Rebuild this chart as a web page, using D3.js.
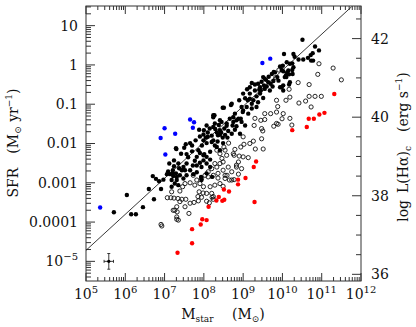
<!DOCTYPE html>
<html>
<head>
<meta charset="utf-8">
<script src="https://cdn.jsdelivr.net/npm/d3@7"></script>
<style>
  html, body { margin: 0; padding: 0; background: #fff; }
  svg { display: block; font-family: "DejaVu Serif", "Liberation Serif", serif; }
</style>
</head>
<body>
<svg id="chart" width="416" height="327"></svg>
<script>
// All galaxy values are stored as [log10 Mstar (Msun), log10 SFR (Msun/yr)]

// Filled black points
const filledGalaxies = [
  [5.71,-3.75],[6.04,-3.31],[6.15,-3.80],[6.27,-3.80],[6.45,-3.62],[6.60,-3.16],[6.73,-3.42],[6.86,-2.96],[6.91,-3.16],[7.06,-2.78],
  [7.24,-2.58],[7.29,-2.12],[7.54,-2.02],[7.70,-2.05],[7.09,-2.71],[7.21,-2.76],
  [8.48,-1.09],[8.24,-1.28],[7.88,-1.65],[7.99,-1.77],[8.38,-1.53],[8.29,-1.63],[8.44,-1.72],[8.58,-1.55],[7.79,-1.92],[8.10,-1.72],
  [8.10,-1.83],[8.20,-1.80],[8.33,-1.72],[8.41,-1.78],[8.54,-1.78],[8.60,-1.85],
  [7.65,-1.99],[7.50,-2.11],[7.30,-2.14],[7.42,-2.26],[7.56,-2.27],[7.86,-2.17],[7.90,-2.24],[8.01,-2.27],[8.07,-2.34],[8.16,-2.41],
  [7.99,-2.43],[7.77,-2.44],[7.72,-2.56],[7.82,-2.56],[7.90,-2.49],[7.56,-2.51],[7.48,-2.60],[7.37,-2.63],[7.24,-2.43],[7.12,-2.51],
  [7.21,-2.68],[7.29,-2.76],[7.14,-2.78],[6.97,-2.92],[7.65,-2.68],[7.73,-2.78],[7.82,-2.73],
  [7.31,-2.85],[7.44,-2.68],[7.39,-2.81],[7.48,-2.89],[7.56,-2.81],[7.31,-2.93],[7.18,-2.93],[7.99,-1.92],[8.24,-1.92],[7.82,-2.34],
  [8.07,-2.51],[8.16,-2.60],[7.93,-2.85],[8.07,-2.76],[8.21,-2.85],
  [7.35,-2.51],[7.52,-2.68],[7.22,-2.83],[7.26,-3.02],[7.18,-3.10],[7.35,-3.06],
  [10.04,0.28],[10.11,0.07],[9.94,-0.04],[9.81,-0.19],[10.02,-0.16],[10.12,-0.19],[10.09,-0.26],[9.73,-0.23],[9.87,-0.31],[9.51,-0.31],
  [9.58,-0.38],[9.64,-0.44],[9.47,-0.43],[9.53,-0.52],[9.70,-0.48],[9.77,-0.41],[9.38,-0.48],[9.43,-0.57],[9.55,-0.61],[9.68,-0.65],
  [9.94,-0.57],[10.02,-0.52],[9.22,-0.46],[9.17,-0.57],[9.30,-0.65],[9.43,-0.73],[9.34,-0.80],[9.51,-0.84],[9.26,-0.90],[9.38,-0.95],
  [9.17,-0.86],[9.00,-0.73],[8.90,-0.90],[8.71,-0.99],[8.51,-1.09],[9.09,-1.07],[9.22,-1.11],[9.34,-1.07],[8.99,-1.20],[9.13,-1.24],
  [8.79,-1.24],[8.88,-1.37],[8.66,-1.37],[8.75,-1.45],[8.58,-1.49],[8.96,-1.45],[9.05,-1.54],[8.83,-1.56],[8.41,-1.41],[8.28,-1.49],
  [8.24,-1.33],
  [10.51,0.64],[10.28,0.28],[10.31,0.21],[10.83,0.47],[10.93,0.37],[10.77,0.30],[10.72,0.25],[10.65,0.18],[10.78,0.11],[10.41,0.14],
  [10.53,0.14],[10.25,0.04],[10.19,0.03],[10.28,-0.06],[10.15,-0.14],[10.26,-0.23],[10.06,-0.31],[10.19,-0.44],[10.17,-0.50],[9.98,-0.57],
  [10.02,-0.65],
  [8.69,-1.02],[8.27,-1.28],[8.00,-1.66],[8.24,-1.58],[8.41,-1.66],[8.36,-1.79],[8.71,-1.75],[8.79,-1.65],[8.92,-1.75],[8.07,-1.99],
  [8.20,-1.96],[8.33,-2.09],[7.99,-2.30],[8.16,-2.21],[8.49,-1.99],[8.41,-2.17],[7.94,-2.60],[7.94,-2.93],
  [6.70,-2.83],[6.78,-2.90],
  [10.01,-0.02],[9.98,-0.13],[9.78,-0.18],[9.55,-0.35],[9.41,-0.63],[9.17,-0.73],[9.12,-0.90],[9.22,-0.99],[8.96,-1.07],[9.00,-1.16],
  [8.75,-1.33],[8.83,-1.41],[8.94,-1.37],[8.73,-1.54],[10.73,0.11],[10.25,-0.13],[10.17,-0.24],[10.10,-0.31],[7.90,-1.82],[8.07,-1.54],
  [8.45,-1.45],[8.52,-1.62],[8.35,-1.95],[8.62,-1.68],[8.15,-1.62],[8.05,-1.85],[8.48,-1.85],[8.28,-2.05],
  [9.60,-0.55],[9.75,-0.55],[9.45,-0.65],[9.65,-0.30],[9.90,-0.40],[9.30,-0.50],[9.05,-0.85],[9.10,-0.62],
  [7.60,-2.35],[7.95,-2.05],[7.70,-2.20]
];

// Open circles
const openGalaxies = [
  [6.91,-4.06],[6.93,-4.10],[7.07,-3.38],[7.16,-3.38],[7.24,-3.39],[7.34,-3.40],[7.44,-3.42],[7.54,-3.42],[7.26,-3.70],[7.32,-3.74],
  [7.31,-3.93],[7.62,-3.78],[7.52,-3.61],[7.75,-3.50],[7.86,-3.46],[7.94,-3.37],[7.88,-3.23],[7.98,-3.26],[8.21,-3.37],[7.39,-3.21],
  [7.46,-3.10],[7.52,-3.02],[7.65,-3.00],[7.82,-2.93],[7.73,-2.81],
  [7.77,-3.06],[7.90,-3.02],[7.94,-2.89],[8.03,-2.81],[8.11,-2.72],[8.20,-2.64],[8.33,-2.60],[8.41,-2.51],[8.49,-2.47],[8.24,-2.81],
  [8.36,-2.76],[8.49,-2.68],[8.62,-2.60],[8.71,-2.72],[8.83,-2.60],[8.88,-2.47],[8.54,-2.89],[8.65,-2.93],[8.41,-3.02],[8.49,-3.09],
  [8.16,-3.10],[8.28,-3.06],[7.85,-3.35],[7.65,-3.52],[7.39,-3.48],[7.31,-3.61],[7.22,-3.70],[7.31,-3.87],[7.35,-3.95],[8.14,-3.51],
  [8.24,-3.42],[8.07,-3.27],[8.20,-3.27],[7.99,-3.10],[7.18,-3.23],
  [8.33,-2.17],[8.41,-2.26],[8.54,-2.17],[8.58,-2.30],[8.46,-2.38],[8.28,-2.51],[8.11,-2.85],[8.36,-2.88],[8.54,-2.81],[8.63,-1.99],
  [8.51,-2.09],
  [10.02,-1.24],[10.19,-1.36],[10.24,-1.53],[9.55,-1.24],[9.70,-1.24],[9.55,-1.39],[9.45,-1.41],[9.30,-1.36],[9.85,-1.49],[9.78,-1.56],
  [9.50,-1.68],[9.28,-1.54],[9.00,-1.83],[9.47,-1.88],[9.26,-1.94],[9.17,-2.00],[9.02,-2.02],[8.94,-2.09],[9.51,-2.14],[9.31,-2.14],
  [8.79,-2.15],[8.77,-2.30],[8.90,-2.32],[9.00,-2.34],[9.13,-2.36],[8.88,-2.78],[8.77,-2.92],
  [10.93,0.03],[11.29,-0.08],[10.90,-0.24],[11.50,-0.38],[10.40,-0.45],[10.17,-0.62],[10.68,-0.50],[10.68,-0.80],[10.83,-0.80],[10.99,-0.80],
  [10.09,-0.90],[10.19,-0.82],[10.42,-0.97],[10.59,-0.92],[10.73,-1.07],[9.85,-0.90],[9.88,-1.06],[9.99,-1.37],[9.89,-1.51],[9.47,-1.62],
  [9.91,-0.13],[9.83,-0.32],
  [9.85,-1.20],[8.75,-2.26],[8.83,-2.55],[8.96,-2.64],[8.59,-2.81],[8.71,-2.93],[8.24,-3.35],[8.07,-3.47]
];

// Red points
const redGalaxies = [
  [11.32,-0.74],[10.25,-1.66],[10.62,-1.58],[10.67,-1.37],[10.80,-1.37],[10.94,-1.26],[11.07,-1.22],[9.33,-2.46],[9.27,-2.60],[9.06,-2.88],
  [8.87,-2.92],[8.87,-3.04],[8.51,-3.17],[8.64,-3.22],[8.38,-3.36],[8.32,-3.45],[8.47,-3.46],[8.52,-3.43],[9.29,-3.49],[8.12,-3.61],
  [7.96,-3.93],[8.07,-3.95],[7.92,-4.06],[7.70,-4.18],[7.70,-4.54],[7.33,-4.78]
];

// Blue points
const blueGalaxies = [
  [5.36,-3.63],[6.90,-1.86],[7.00,-1.61],[7.27,-1.75],[7.02,-2.28],[7.65,-1.39],[7.75,-1.46],[7.72,-1.60],[9.49,0.05],[9.69,0.16]
];

// Reference relation (two end points, log units)
const relationLogM = [5.0, 11.76];
const relationLogSFR = [-4.72, 1.48];

// Typical error bar
const typicalError = { logM: 5.58, logSFR: -5.0, errLogM: 0.12, errLogSFR: 0.2 };

// Axis ranges and labels
const massLogRange = [5, 12];
const sfrLogRange = [-5.5, 1.5];
const sfrTickLabels = ['10', '1', '0.1', '0.01', '0.001', '0.0001'];
const lhaOffset = 41.33;           // log L(Halpha) = log SFR + offset
const lhaLabels = [36, 38, 40, 42];

const CONFIG = {
  left: 86, right: 361, top: 6, bottom: 281,
  ink: '#111',
  tickInk: '#333',
  dotRadius: 2.2
};

const svg = d3.select('#chart');

const x = d3.scaleLog()
  .domain(massLogRange.map(v => Math.pow(10, v)))
  .range([CONFIG.left, CONFIG.right]);
const y = d3.scaleLog()
  .domain(sfrLogRange.map(v => Math.pow(10, v)))
  .range([CONFIG.bottom, CONFIG.top]);
const yL = d3.scaleLinear()
  .domain(sfrLogRange.map(v => v + lhaOffset))
  .range([CONFIG.bottom, CONFIG.top]);

const px = d => x(Math.pow(10, d[0]));
const py = d => y(Math.pow(10, d[1]));

const isDecade = t => Math.abs(Math.log10(t) - Math.round(Math.log10(t))) < 1e-6;

// Clip for the plotted marks
svg.append('clipPath').attr('id', 'plotClip')
  .append('rect')
  .attr('x', CONFIG.left).attr('y', CONFIG.top)
  .attr('width', CONFIG.right - CONFIG.left)
  .attr('height', CONFIG.bottom - CONFIG.top);

// Frame
svg.append('rect')
  .attr('x', CONFIG.left).attr('y', CONFIG.top)
  .attr('width', CONFIG.right - CONFIG.left)
  .attr('height', CONFIG.bottom - CONFIG.top)
  .attr('fill', 'none')
  .attr('stroke', CONFIG.tickInk)
  .attr('stroke-width', 1);

// X ticks (bottom and top)
const xTicks = x.ticks();
const tickG = svg.append('g').attr('stroke', CONFIG.tickInk).attr('stroke-width', 1);
xTicks.forEach(t => {
  const len = isDecade(t) ? 8 : 4;
  tickG.append('line')
    .attr('x1', x(t)).attr('x2', x(t))
    .attr('y1', CONFIG.bottom).attr('y2', CONFIG.bottom - len);
  tickG.append('line')
    .attr('x1', x(t)).attr('x2', x(t))
    .attr('y1', CONFIG.top).attr('y2', CONFIG.top + len);
});

// Y ticks (left, log SFR)
y.ticks().forEach(t => {
  const len = isDecade(t) ? 9 : 5;
  tickG.append('line')
    .attr('x1', CONFIG.left).attr('x2', CONFIG.left + len)
    .attr('y1', y(t)).attr('y2', y(t));
});

// Right ticks (log L(Halpha))
d3.range(36, 43, 0.5).filter(v => v >= yL.domain()[0] && v <= yL.domain()[1]).forEach(v => {
  const len = (v % 2 === 0) ? 9 : 5;
  tickG.append('line')
    .attr('x1', CONFIG.right).attr('x2', CONFIG.right - len)
    .attr('y1', yL(v)).attr('y2', yL(v));
});

// Bottom tick labels: 10^n
const labelG = svg.append('g').attr('fill', CONFIG.ink).style('font-size', '14px');
d3.range(massLogRange[0], massLogRange[1] + 1).forEach(k => {
  const t = labelG.append('text')
    .attr('x', x(Math.pow(10, k)))
    .attr('y', 299)
    .attr('text-anchor', 'middle');
  t.append('tspan').text('10');
  t.append('tspan').attr('dy', -6).style('font-size', '10px').text(k);
});

// Left tick labels
sfrTickLabels.forEach((lab, i) => {
  labelG.append('text')
    .attr('x', CONFIG.left - 8)
    .attr('y', y(Math.pow(10, 1 - i)))
    .attr('dy', '0.35em')
    .attr('text-anchor', 'end')
    .text(lab);
});
const lowLabel = labelG.append('text')
  .attr('x', CONFIG.left - 8)
  .attr('y', y(1e-5))
  .attr('dy', '0.35em')
  .attr('text-anchor', 'end');
lowLabel.append('tspan').text('10');
lowLabel.append('tspan').attr('dy', -6).style('font-size', '10px').text('\u22125');

// Right tick labels
lhaLabels.forEach(v => {
  labelG.append('text')
    .attr('x', CONFIG.right + 10)
    .attr('y', yL(v))
    .attr('dy', '0.35em')
    .attr('text-anchor', 'start')
    .text(v);
});

// Axis titles
const xTitle = labelG.append('text')
  .attr('x', 223).attr('y', 319)
  .attr('text-anchor', 'middle');
xTitle.append('tspan').text('M');
xTitle.append('tspan').attr('dy', 3).style('font-size', '9px').text('star');
xTitle.append('tspan').attr('dy', -3).text('\u2003 (M');
xTitle.append('tspan').attr('dy', 3).style('font-size', '9px').text('\u2299');
xTitle.append('tspan').attr('dy', -3).text(')');

const yTitle = labelG.append('text')
  .attr('transform', 'translate(18,143) rotate(-90)')
  .attr('text-anchor', 'middle');
yTitle.append('tspan').text('SFR\u2003(M');
yTitle.append('tspan').attr('dy', 3).style('font-size', '9px').text('\u2299');
yTitle.append('tspan').attr('dy', -3).text(' yr');
yTitle.append('tspan').attr('dy', -6).style('font-size', '9px').text('\u22121');
yTitle.append('tspan').attr('dy', 6).text(')');

const rTitle = labelG.append('text')
  .attr('transform', 'translate(408,147) rotate(-90)')
  .attr('text-anchor', 'middle');
rTitle.append('tspan').text('log\u2002L(H\u03b1)');
rTitle.append('tspan').attr('dy', 3).style('font-size', '9px').text('c');
rTitle.append('tspan').attr('dy', -3).text('\u2003(erg s');
rTitle.append('tspan').attr('dy', -6).style('font-size', '9px').text('\u22121');
rTitle.append('tspan').attr('dy', 6).text(')');

// Plot area
const plot = svg.append('g').attr('clip-path', 'url(#plotClip)');

// Reference relation line
const relation = relationLogM.map((m, i) => [m, relationLogSFR[i]]);
plot.append('path')
  .datum(relation)
  .attr('d', d3.line().x(px).y(py))
  .attr('fill', 'none')
  .attr('stroke', '#222')
  .attr('stroke-width', 0.9);

// Open circles
plot.selectAll('.open')
  .data(openGalaxies)
  .enter().append('circle')
  .attr('class', 'open')
  .attr('cx', px).attr('cy', py)
  .attr('r', 2.1)
  .attr('fill', 'none')
  .attr('stroke', '#111')
  .attr('stroke-width', 0.9);

// Filled black points
plot.selectAll('.filled')
  .data(filledGalaxies)
  .enter().append('circle')
  .attr('class', 'filled')
  .attr('cx', px).attr('cy', py)
  .attr('r', CONFIG.dotRadius)
  .attr('fill', '#000');

// Red and blue points
plot.selectAll('.red')
  .data(redGalaxies)
  .enter().append('circle')
  .attr('class', 'red')
  .attr('cx', px).attr('cy', py)
  .attr('r', CONFIG.dotRadius)
  .attr('fill', '#ff0000');

plot.selectAll('.blue')
  .data(blueGalaxies)
  .enter().append('circle')
  .attr('class', 'blue')
  .attr('cx', px).attr('cy', py)
  .attr('r', CONFIG.dotRadius)
  .attr('fill', '#0000ff');

// Typical error bar
const e = typicalError;
const ex = x(Math.pow(10, e.logM));
const ey = y(Math.pow(10, e.logSFR));
const exLo = x(Math.pow(10, e.logM - e.errLogM));
const exHi = x(Math.pow(10, e.logM + e.errLogM));
const eyLo = y(Math.pow(10, e.logSFR - e.errLogSFR));
const eyHi = y(Math.pow(10, e.logSFR + e.errLogSFR));
const errG = plot.append('g').attr('stroke', '#222').attr('stroke-width', 0.9);
errG.append('line').attr('x1', exLo).attr('x2', exHi).attr('y1', ey).attr('y2', ey);
errG.append('line').attr('x1', ex).attr('x2', ex).attr('y1', eyLo).attr('y2', eyHi);
errG.append('line').attr('x1', exLo).attr('x2', exLo).attr('y1', ey - 1.5).attr('y2', ey + 1.5);
errG.append('line').attr('x1', exHi).attr('x2', exHi).attr('y1', ey - 1.5).attr('y2', ey + 1.5);
errG.append('line').attr('x1', ex - 1.5).attr('x2', ex + 1.5).attr('y1', eyLo).attr('y2', eyLo);
errG.append('line').attr('x1', ex - 1.5).attr('x2', ex + 1.5).attr('y1', eyHi).attr('y2', eyHi);
plot.append('circle').attr('cx', ex).attr('cy', ey).attr('r', 1.6).attr('fill', '#000');
</script>
</body>
</html>
